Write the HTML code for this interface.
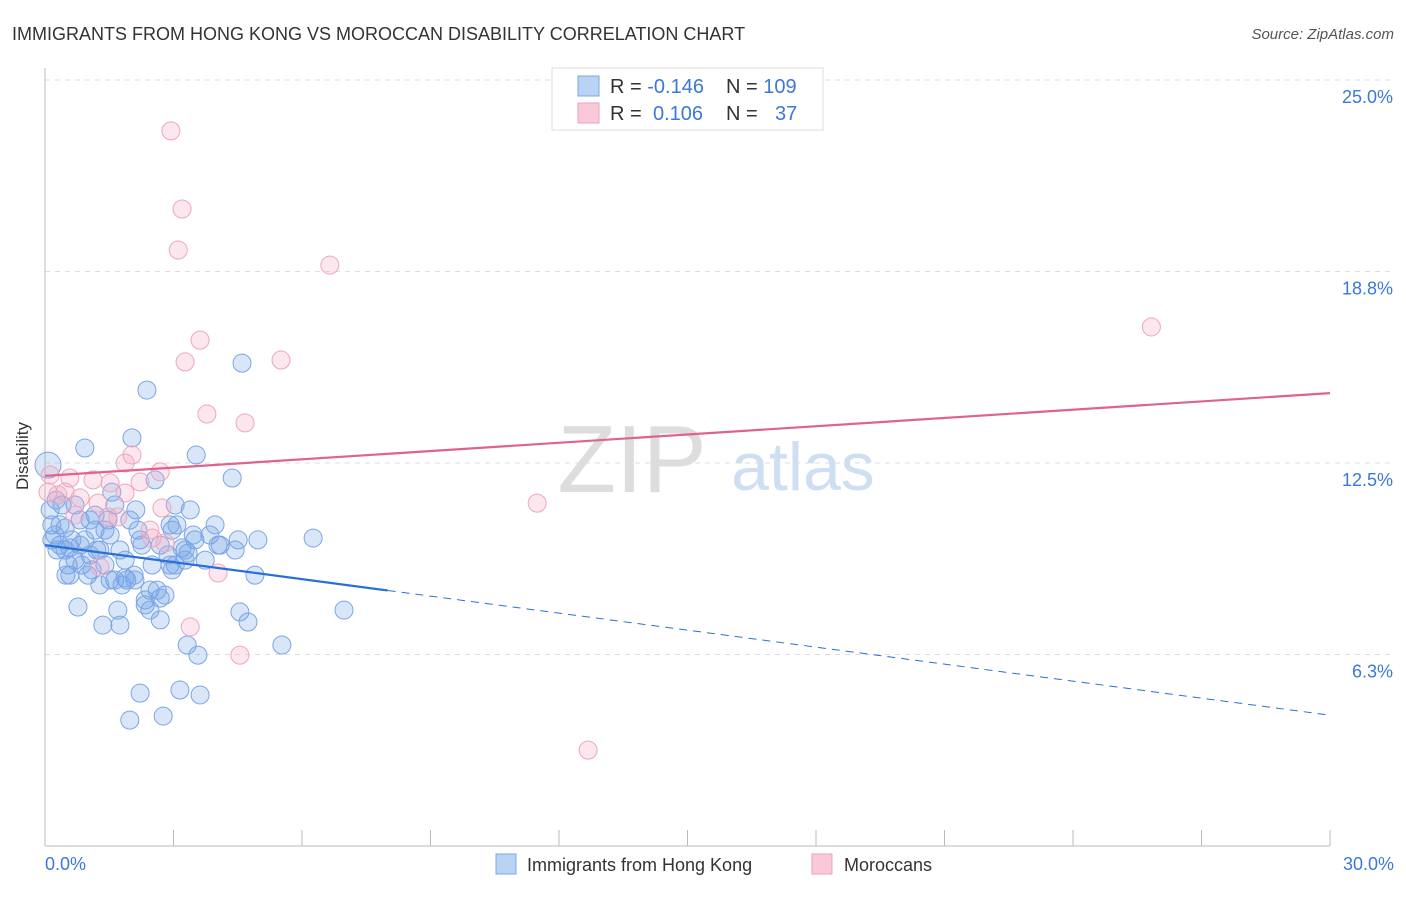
<!DOCTYPE html>
<html><head><meta charset="utf-8"><style>
body{margin:0;background:#fff;font-family:"Liberation Sans",sans-serif}
svg text{font-family:"Liberation Sans",sans-serif}
</style></head><body>
<svg width="1406" height="892" id="chart">
<text x="12" y="40" font-size="18" fill="#333">IMMIGRANTS FROM HONG KONG VS MOROCCAN DISABILITY CORRELATION CHART</text>
<text x="1394" y="39" font-size="15" fill="#555" font-style="italic" text-anchor="end">Source: ZipAtlas.com</text>
<text x="632" y="492" font-size="96" fill="#ddd" font-family="Liberation Serif,serif" text-anchor="middle">ZIP</text>
<text x="803" y="490" font-size="68" fill="#cfdff3" text-anchor="middle">atlas</text>
<g id="grid"></g><g id="axes"></g><g id="pts"></g><g id="trends"></g>
<text x="28" y="456" font-size="17" fill="#333" text-anchor="middle" transform="rotate(-90 28 456)">Disability</text>
<text x="45" y="870" font-size="18" fill="#3b78d8">0.0%</text>
<text x="1394" y="870" font-size="18" fill="#3b78d8" text-anchor="end">30.0%</text>
<g>
<rect x="552" y="68" width="271" height="62" fill="#fff" stroke="#ddd"/>
<rect x="578" y="76" width="21" height="20" fill="#b9d3f5" stroke="#7aa7e8"/>
<rect x="578" y="103" width="21" height="20" fill="#f9c9d8" stroke="#eea0ba"/>
<text x="610" y="93" font-size="20" fill="#333">R = <tspan fill="#3b78d8">-0.146</tspan><tspan x="726">N = </tspan><tspan fill="#3b78d8">109</tspan></text>
<text x="610" y="120" font-size="20" fill="#333">R = <tspan x="653" fill="#3b78d8">0.106</tspan><tspan x="726">N = </tspan><tspan x="775" fill="#3b78d8">37</tspan></text>
</g>
<g>
<rect x="496" y="854" width="20" height="20" fill="#b9d3f5" stroke="#7aa7e8"/>
<text x="527" y="871" font-size="18" fill="#333">Immigrants from Hong Kong</text>
<rect x="812" y="854" width="20" height="20" fill="#f9c9d8" stroke="#eea0ba"/>
<text x="844" y="871" font-size="18" fill="#333">Moroccans</text>
</g>
</svg>
<script>
const yTicks=[25,18.75,12.5,6.25];
const yTickLabels=["25.0%","18.8%","12.5%","6.3%"];
const blueX=[.07,.12,.16,.23,.28,.35,.40,.47,.54,.58,.63,.70,.77,.82,.86,.93,1.00,1.05,1.10,1.17,1.21,1.28,1.35,1.40,1.47,1.52,1.56,1.63,1.70,1.75,1.80,1.87,1.91,1.98,2.03,2.08,2.12,2.17,2.22,2.26,2.34,2.38,2.45,2.50,2.57,2.62,2.69,2.76,2.80,2.87,2.92,2.97,3.04,3.08,3.15,3.20,3.27,3.32,3.39,3.46,3.53,3.57,3.62,3.74,3.85,3.97,4.04,4.09,4.37,4.44,4.51,4.55,4.60,4.74,4.90,4.97,5.53,6.26,6.98,2.69,.35,.47,.58,.93,1.05,1.28,1.52,1.75,1.98,2.22,2.45,2.92,3.04,3.27,3.50,1.87,1.63,1.17,1.40,.70,.82,.26,.16,.49,2.10,2.34,2.69,2.97,3.34];
const blueY=[12.43,10.97,10.48,10.15,9.66,9.82,11.13,9.66,9.17,8.84,9.99,9.33,7.80,9.82,9.17,12.99,8.84,9.50,9.01,10.80,9.66,8.52,7.21,10.31,10.64,8.68,11.55,11.13,7.70,7.21,8.52,9.33,8.68,4.11,13.32,8.84,10.97,10.31,4.99,9.82,8.03,14.88,7.70,9.17,11.95,8.35,9.82,4.24,8.19,9.50,9.17,10.31,11.13,10.48,5.09,9.73,9.33,6.56,10.97,10.15,12.76,6.23,4.93,9.33,10.15,10.48,9.82,9.82,12.01,9.66,9.99,7.64,15.76,7.31,8.84,9.99,6.56,10.05,7.70,8.09,10.48,10.38,9.73,9.99,10.64,9.66,10.15,9.66,10.64,9.99,8.35,10.48,9.17,9.66,9.99,8.75,8.68,10.31,9.17,11.13,10.64,11.29,9.99,8.84,8.68,7.87,7.38,9.01,9.56];
const pinkX=[2.94,3.20,3.11,6.65,3.62,3.27,5.51,3.78,4.67,25.83,11.49,12.68,1.87,2.03,2.69,2.22,.12,.30,.47,.58,.82,1.12,1.24,1.47,1.70,1.52,1.87,2.73,2.45,2.50,2.80,3.39,4.04,4.55,1.28,.70,.07];
const pinkY=[23.34,20.79,19.45,18.96,16.51,15.80,15.86,14.10,13.81,16.94,11.19,3.13,12.50,12.76,12.21,11.88,12.11,11.46,11.55,12.01,11.36,11.95,11.19,10.74,10.74,11.85,11.52,11.03,10.31,10.05,9.89,7.15,8.91,6.23,9.11,10.80,11.55];
const pinkTrend=[12.08,14.78];
const blueTrend=[9.82,4.27];
const blueSolidEnd=8.0;
const X=v=>45+v/30*1285, Y=v=>846-v/25*766;
const NS="http://www.w3.org/2000/svg";
function mk(tag,attrs,parent){const e=document.createElementNS(NS,tag);for(const k in attrs)e.setAttribute(k,attrs[k]);document.getElementById(parent).appendChild(e);return e;}
yTicks.forEach((t,i)=>{
 const l=mk('line',{x1:45,x2:1394,y1:Y(t),y2:Y(t),stroke:'#ddd','stroke-dasharray':'5,5'},'grid');
 
 
 const tx=mk('text',{x:1393,y:Y(t)+23,'font-size':18,fill:'#3b78d8','text-anchor':'end'},'grid');
 tx.textContent=yTickLabels[i];
 
 
});
let a=mk('line',{x1:45,x2:45,y1:68,y2:846,stroke:'#bbb'},'axes');


a=mk('line',{x1:45,x2:1330,y1:846,y2:846,stroke:'#bbb'},'axes');


for(let i=0;i<=10;i++){const t=mk('line',{x1:X(i*3),x2:X(i*3),y1:830,y2:846,stroke:'#bbb'},'axes');
 
 }
blueX.forEach((v,i)=>{const c=mk('circle',{cx:X(v),cy:Y(blueY[i]),r:i==0?13:9,fill:'rgba(120,165,230,0.28)',stroke:'#7aa5e6','stroke-width':1},'pts');
 
 });
pinkX.forEach((v,i)=>{const c=mk('circle',{cx:X(v),cy:Y(pinkY[i]),r:9,fill:'rgba(244,170,195,0.28)',stroke:'#eea6be','stroke-width':1},'pts');
 
 });
const by=v=>blueTrend[0]+(blueTrend[1]-blueTrend[0])*v/30;
let t=mk('line',{x1:X(0),y1:Y(pinkTrend[0]),x2:X(30),y2:Y(pinkTrend[1]),stroke:'#e0628f','stroke-width':2.2},'trends');


t=mk('line',{x1:X(0),y1:Y(by(0)),x2:X(blueSolidEnd),y2:Y(by(blueSolidEnd)),stroke:'#2a6fd6','stroke-width':2.2},'trends');


t=mk('line',{x1:X(blueSolidEnd),y1:Y(by(blueSolidEnd)),x2:X(30),y2:Y(by(30)),stroke:'#2a6fd6','stroke-width':1,'stroke-dasharray':'8,6'},'trends');


</script>
</body></html>
